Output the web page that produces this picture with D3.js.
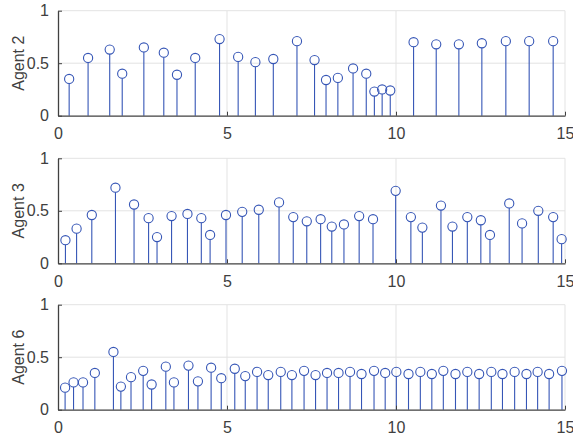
<!DOCTYPE html>
<html>
<head>
<meta charset="utf-8">
<script src="https://cdn.jsdelivr.net/npm/d3@7"></script>
<style>
  body { margin: 0; background: #fff; }
  svg { display: block; font-family: "Liberation Sans", Arial, sans-serif; }
</style>
</head>
<body>
<svg id="svg" width="573" height="438"></svg>
<script>
// stem data
const agent2X = [0.33, 0.89, 1.53, 1.90, 2.54, 3.13, 3.52, 4.06, 4.78, 5.33, 5.84, 6.37, 7.07,
    7.59, 7.93, 8.28, 8.73, 9.12, 9.36, 9.59, 9.83, 10.52, 11.19, 11.86, 12.54, 13.25, 13.94, 14.65];
const agent2Y = [0.35, 0.55, 0.63, 0.40, 0.65, 0.60, 0.39, 0.55, 0.73, 0.56, 0.51, 0.54, 0.71,
    0.53, 0.34, 0.36, 0.45, 0.40, 0.23, 0.25, 0.24, 0.70, 0.68, 0.68, 0.69, 0.71, 0.71, 0.71];

const agent3X = [0.22, 0.55, 1.00, 1.70, 2.25, 2.68, 2.93, 3.36, 3.83, 4.24, 4.50, 4.97, 5.45, 5.94, 6.54, 6.96,
    7.36, 7.77, 8.10, 8.46, 8.91, 9.32, 9.99, 10.44, 10.78, 11.33, 11.67, 12.11, 12.51, 12.78,
    13.35, 13.73, 14.21, 14.65, 14.90];
const agent3Y = [0.22, 0.33, 0.46, 0.72, 0.56, 0.43, 0.25, 0.45, 0.47, 0.43, 0.27, 0.46, 0.49, 0.51, 0.58, 0.44,
    0.40, 0.42, 0.35, 0.37, 0.45, 0.42, 0.69, 0.44, 0.34, 0.55, 0.35, 0.44, 0.41, 0.27,
    0.57, 0.38, 0.50, 0.44, 0.23];

const agent6X = [0.21, 0.46, 0.74, 1.09, 1.64, 1.86, 2.16, 2.52, 2.77, 3.19, 3.43, 3.86, 4.14, 4.53, 4.83,
    5.23, 5.54, 5.89, 6.22, 6.59, 6.92, 7.28, 7.62, 7.96, 8.30, 8.64, 8.98, 9.35, 9.68, 10.01,
    10.37, 10.72, 11.06, 11.40, 11.76, 12.11, 12.46, 12.82, 13.15, 13.51, 13.86, 14.19, 14.53, 14.91];
const agent6Y = [0.21, 0.26, 0.26, 0.35, 0.55, 0.22, 0.31, 0.37, 0.24, 0.41, 0.26, 0.42, 0.27, 0.40, 0.30,
    0.39, 0.32, 0.36, 0.33, 0.36, 0.33, 0.37, 0.33, 0.35, 0.35, 0.36, 0.34, 0.37, 0.35, 0.36,
    0.34, 0.36, 0.34, 0.37, 0.34, 0.36, 0.34, 0.36, 0.34, 0.36, 0.34, 0.36, 0.34, 0.37];

const panelNames = ["Agent 2", "Agent 3", "Agent 6"];
const xTicks = [0, 5, 10, 15];
const yTicks = [0, 0.5, 1];

const panels = [
    { name: panelNames[0], xs: agent2X, ys: agent2Y, top: 10.7 },
    { name: panelNames[1], xs: agent3X, ys: agent3Y, top: 158.3 },
    { name: panelNames[2], xs: agent6X, ys: agent6Y, top: 304.7 }
];

const left = 58, right = 565, plotH = 105;
const stemColor = "#3656b6";
const axisColor = "#404040";
const gridColor = "#e3e3e3";
const textColor = "#404040";

const svg = d3.select("#svg");
const x = d3.scaleLinear().domain([0, 15]).range([left, right]);

panels.forEach(p => {
    const y = d3.scaleLinear().domain([0, 1]).range([p.top + plotH, p.top]);
    const g = svg.append("g");

    // grid
    g.append("g").selectAll("line").data(xTicks.slice(1)).join("line")
        .attr("x1", d => x(d)).attr("x2", d => x(d))
        .attr("y1", y(0)).attr("y2", y(1))
        .attr("stroke", gridColor).attr("stroke-width", 1);
    g.append("g").selectAll("line").data(yTicks.slice(1)).join("line")
        .attr("x1", left).attr("x2", right)
        .attr("y1", d => y(d)).attr("y2", d => y(d))
        .attr("stroke", gridColor).attr("stroke-width", 1);

    // stems
    g.append("g").selectAll("line").data(p.xs).join("line")
        .attr("x1", d => x(d)).attr("x2", d => x(d))
        .attr("y1", y(0)).attr("y2", (d, i) => y(p.ys[i]) + 4.5)
        .attr("stroke", stemColor).attr("stroke-width", 1.1);
    g.append("g").selectAll("circle").data(p.xs).join("circle")
        .attr("cx", d => x(d)).attr("cy", (d, i) => y(p.ys[i]))
        .attr("r", 4.6)
        .attr("fill", "none").attr("stroke", stemColor).attr("stroke-width", 1.1);

    // axes
    const xAxis = d3.axisBottom(x).tickValues(xTicks).tickSizeInner(-4).tickSizeOuter(0).tickPadding(12);
    const gx = g.append("g").attr("transform", `translate(0,${y(0)})`).call(xAxis);
    const yAxis = d3.axisLeft(y).tickValues(yTicks).tickSizeInner(-4).tickSizeOuter(0).tickPadding(9)
        .tickFormat(d3.format("~g"));
    const gy = g.append("g").attr("transform", `translate(${left},0)`).call(yAxis);

    [gx, gy].forEach(a => {
        a.select(".domain").attr("stroke", axisColor).attr("stroke-width", 1.3);
        a.selectAll(".tick line").attr("stroke", axisColor);
        a.selectAll("text").attr("fill", textColor).attr("font-size", 16)
            .attr("font-family", "Liberation Sans, Arial, sans-serif");
    });

    g.append("text")
        .attr("transform", `translate(18,${y(0.5)}) rotate(-90)`)
        .attr("text-anchor", "middle")
        .attr("dy", "0.35em")
        .attr("fill", textColor)
        .attr("font-size", 16)
        .text(p.name);
});
</script>
</body>
</html>
